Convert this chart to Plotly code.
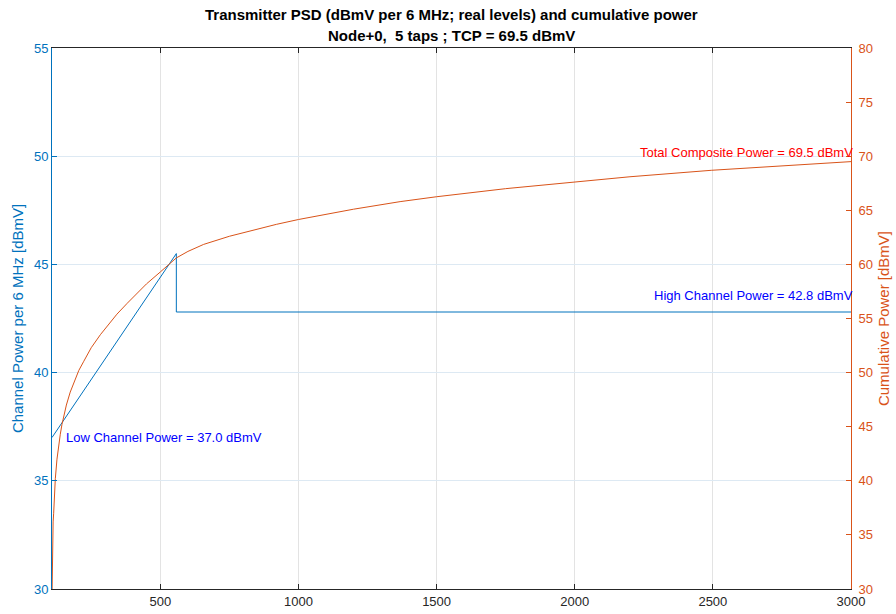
import plotly.graph_objects as go

# Channel power per 6 MHz (left axis)
psd_mhz = [108, 558, 558, 3000]
psd_dbmv = [37.0, 45.5, 42.8, 42.8]

# Cumulative power (right axis)
cum_mhz = [108, 109, 110, 111, 112, 114, 117, 120, 126, 132, 138, 144, 152, 160, 174, 190, 205, 222,
           250, 283, 310, 343, 380, 416, 450, 500, 530, 558, 600, 657, 750, 838, 920, 1000, 1100,
           1199, 1368, 1499, 1750, 1998, 2200, 2496, 2750, 3000]
cum_dbmv = [29.2, 32.2, 34.0, 35.2, 36.2, 37.0, 38.8, 40.2, 42.0, 43.3, 44.3, 45.2, 46.2, 47.0,
            48.2, 49.3, 50.2, 51.0, 52.3, 53.5, 54.4, 55.4, 56.4, 57.3, 58.2, 59.3, 59.95, 60.6,
            61.2, 61.85, 62.6, 63.2, 63.7, 64.15, 64.65, 65.1, 65.8, 66.25, 67.0, 67.6, 68.1,
            68.7, 69.1, 69.5]

x_ticks = [500, 1000, 1500, 2000, 2500, 3000]
left_ticks = [30, 35, 40, 45, 50, 55]
right_ticks = [30, 35, 40, 45, 50, 55, 60, 65, 70, 75, 80]

low_power = 37.0
high_power = 42.8
tcp = 69.5

title_line1 = "Transmitter PSD (dBmV per 6 MHz; real levels) and cumulative power"
title_line2 = "Node+0,  5 taps ; TCP = 69.5 dBmV"

BLUE = "#0072BD"
ORANGE = "#D95319"
FONT = "Liberation Sans, Arial, sans-serif"

fig = go.Figure()
fig.add_trace(go.Scatter(x=psd_mhz, y=psd_dbmv, mode="lines",
                         line=dict(color=BLUE, width=1), yaxis="y", showlegend=False))
fig.add_trace(go.Scatter(x=cum_mhz, y=cum_dbmv, mode="lines",
                         line=dict(color=ORANGE, width=1),
                         yaxis="y2", showlegend=False))

fig.add_annotation(x=158, y=low_power, xref="x", yref="y",
                   text=f"Low Channel Power = {low_power:.1f} dBmV", showarrow=False,
                   xanchor="left", yanchor="middle", xshift=-2,
                   font=dict(color="#0000FF", size=13, family=FONT))
fig.add_annotation(x=3000, y=high_power + 0.9, xref="x", yref="y",
                   text=f"High Channel Power = {high_power:.1f} dBmV", showarrow=False,
                   xanchor="right", yanchor="middle", xshift=4, yshift=-3,
                   font=dict(color="#0000FF", size=13, family=FONT))
fig.add_annotation(x=3000, y=tcp + 1.0, xref="x", yref="y2",
                   text=f"Total Composite Power = {tcp:.1f} dBmV", showarrow=False,
                   xanchor="right", yanchor="middle", xshift=4, yshift=-2,
                   font=dict(color="#FF0000", size=13, family=FONT))

# Title (two bold lines)
fig.add_annotation(x=0.5, y=1, xref="paper", yref="paper", text=f"<b>{title_line1}</b>",
                   showarrow=False, xanchor="center", yanchor="middle", yshift=34,
                   font=dict(size=15, color="black", family=FONT))
fig.add_annotation(x=0.5, y=1, xref="paper", yref="paper", text=f"<b>{title_line2}</b>",
                   showarrow=False, xanchor="center", yanchor="middle", yshift=13,
                   font=dict(size=15, color="black", family=FONT))

fig.update_layout(
    width=896, height=614,
    margin=dict(l=52, r=45, t=48, b=25, autoexpand=False),
    paper_bgcolor="white", plot_bgcolor="white",
    font=dict(family=FONT, size=13, color="#262626"),
    xaxis=dict(range=[108, 3000], tickvals=x_ticks, showgrid=True, gridcolor="#e3e3e3",
               zeroline=False, showline=True, linecolor="#262626", linewidth=1, mirror="ticks",
               ticks="inside", ticklen=5, tickcolor="#262626", automargin=False,
               tickfont=dict(size=13, color="#262626")),
    yaxis=dict(range=[30, 55], tickvals=left_ticks, showgrid=True, gridcolor="#dde9f3",
               zeroline=False, showline=True, linecolor=BLUE, linewidth=1,
               ticks="inside", ticklen=5, tickcolor=BLUE, automargin=False,
               tickfont=dict(size=13, color=BLUE),
               title=dict(text="Channel Power per 6 MHz [dBmV]", font=dict(size=15, color=BLUE), standoff=6)),
    yaxis2=dict(range=[30, 80], tickvals=right_ticks, overlaying="y", side="right", showgrid=False,
                zeroline=False, showline=True, linecolor=ORANGE, linewidth=1,
                ticks="inside", ticklen=5, tickcolor=ORANGE, ticklabelstandoff=4, automargin=False,
                tickfont=dict(size=13, color=ORANGE),
                title=dict(text="Cumulative Power [dBmV]", font=dict(size=15, color=ORANGE), standoff=6)),
)

fig.write_html("out.html")
